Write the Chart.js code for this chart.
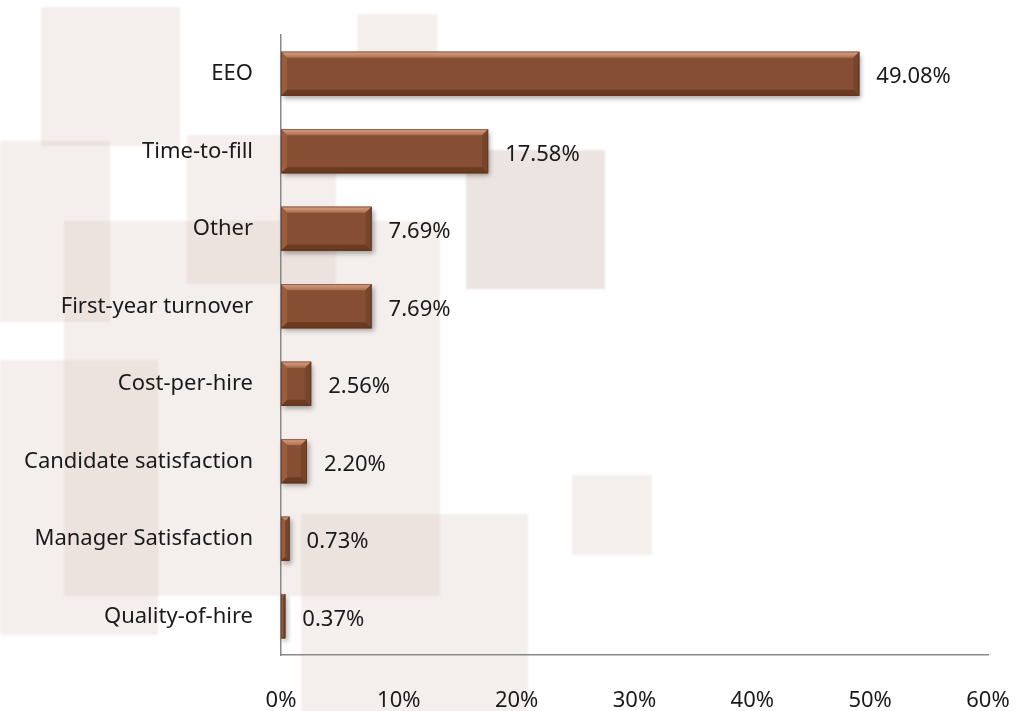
<!DOCTYPE html>
<html>
<head>
<meta charset="utf-8">
<script src="https://cdn.jsdelivr.net/npm/chart.js@4/dist/chart.umd.min.js"></script>
<style>
  html, body { margin: 0; padding: 0; background: #fff; }
  #wrap { width: 1017px; height: 711px; position: relative; }
</style>
</head>
<body>
<div id="wrap"><canvas id="chart"></canvas></div>
<script>
const categories = [
    'EEO',
    'Time-to-fill',
    'Other',
    'First-year turnover',
    'Cost-per-hire',
    'Candidate satisfaction',
    'Manager Satisfaction',
    'Quality-of-hire'
];
const shares = [49.08, 17.58, 7.69, 7.69, 2.56, 2.20, 0.73, 0.37];
const xTicks = [0, 10, 20, 30, 40, 50, 60];

const FONT = '"Noto Sans", sans-serif';
const FONT_SIZE = 22;
const TEXT = '#1a1a1a';

// faint squares scattered behind the plot
const backdrop = {
    id: 'backdrop',
    beforeDraw(chart) {
        const ctx = chart.ctx;
        const squares = [
            [41, 7, 139, 139, 0.2],
            [0, 141, 110, 181, 0.2],
            [187, 135, 149, 149, 0.2],
            [64, 221, 376, 375, 0.2],
            [0, 360, 158, 275, 0.2],
            [301, 514, 227, 200, 0.2],
            [357, 14, 80, 80, 0.2],
            [466, 150, 139, 139, 0.34],
            [572, 475, 80, 80, 0.2]
        ];
        ctx.save();
        ctx.filter = 'blur(1px)';
        squares.forEach(([x, y, w, h, a]) => {
            ctx.fillStyle = 'rgba(200,175,165,' + a + ')';
            ctx.fillRect(x, y, w, h);
        });
        ctx.restore();
    }
};

const barsOf = chart => chart.getDatasetMeta(0).data.map(b => {
    const p = b.getProps(['x', 'y', 'base', 'height'], true);
    return {l: p.base, r: p.x, t: p.y - p.height / 2, b: p.y + p.height / 2, y: p.y};
});

// soft shadow under each bar, then bevelled edges on top of it
const bevel = {
    id: 'bevel',
    beforeDatasetsDraw(chart) {
        const ctx = chart.ctx;
        ctx.save();
        ctx.shadowColor = 'rgba(0,0,0,0.35)';
        ctx.shadowBlur = 5;
        ctx.shadowOffsetX = 2;
        ctx.shadowOffsetY = 3;
        ctx.fillStyle = '#864f33';
        barsOf(chart).forEach(r => ctx.fillRect(r.l, r.t, r.r - r.l, r.b - r.t));
        ctx.restore();
    },
    afterDatasetsDraw(chart) {
        const ctx = chart.ctx;
        const poly = (pts, fill) => {
            ctx.beginPath();
            ctx.moveTo(pts[0][0], pts[0][1]);
            pts.slice(1).forEach(p => ctx.lineTo(p[0], p[1]));
            ctx.closePath();
            ctx.fillStyle = fill;
            ctx.fill();
        };
        ctx.save();
        barsOf(chart).forEach(r => {
            const w = r.r - r.l;
            const d = Math.min(6, w / 2);
            const top = ctx.createLinearGradient(0, r.t, 0, r.t + d);
            top.addColorStop(0, '#dba487');
            top.addColorStop(1, '#ad7050');
            poly([[r.l, r.t], [r.r, r.t], [r.r - d, r.t + d], [r.l + d, r.t + d]], top);
            poly([[r.l, r.b], [r.r, r.b], [r.r - d, r.b - d], [r.l + d, r.b - d]], '#6b3b21');
            poly([[r.l, r.t], [r.l + d, r.t + d], [r.l + d, r.b - d], [r.l, r.b]], '#9a5d3e');
            poly([[r.r, r.t], [r.r - d, r.t + d], [r.r - d, r.b - d], [r.r, r.b]], '#76452c');
            ctx.strokeStyle = 'rgba(80,40,20,0.45)';
            ctx.lineWidth = 1;
            ctx.strokeRect(r.l + 0.5, r.t + 0.5, w - 1, r.b - r.t - 1);
        });
        // value labels
        ctx.fillStyle = TEXT;
        ctx.font = FONT_SIZE + 'px ' + FONT;
        ctx.textAlign = 'left';
        ctx.textBaseline = 'middle';
        barsOf(chart).forEach((r, i) => {
            ctx.fillText(shares[i].toFixed(2) + '%', r.r + 17, r.y + 3);
        });
        ctx.restore();
    }
};

new Chart(document.getElementById('chart'), {
    type: 'bar',
    data: {
        labels: categories,
        datasets: [{
            data: shares,
            backgroundColor: '#864f33',
            borderWidth: 0,
            categoryPercentage: 0.57,
            barPercentage: 1
        }]
    },
    options: {
        indexAxis: 'y',
        responsive: true,
        maintainAspectRatio: false,
        animation: false,
        events: [],
        layout: { padding: { top: 35, right: 29, left: 0, bottom: 0 } },
        plugins: {
            legend: { display: false },
            tooltip: { enabled: false }
        },
        scales: {
            x: {
                min: xTicks[0],
                max: xTicks[xTicks.length - 1],
                afterBuildTicks: scale => { scale.ticks = xTicks.map(v => ({value: v})); },
                afterFit: scale => {
                    scale.height = 56;
                    scale.paddingLeft = 0;
                    scale.paddingRight = 0;
                },
                grid: { display: false },
                border: { display: true, color: '#888888', width: 1.5 },
                ticks: {
                    callback: value => value + '%',
                    color: TEXT,
                    font: { family: FONT, size: FONT_SIZE },
                    padding: 25,
                    maxRotation: 0
                }
            },
            y: {
                afterFit: scale => { scale.width = 281; },
                grid: { display: false },
                border: { display: true, color: '#888888', width: 1.5 },
                ticks: {
                    color: TEXT,
                    font: { family: FONT, size: FONT_SIZE },
                    padding: 20
                }
            }
        }
    },
    plugins: [backdrop, bevel]
});
</script>
</body>
</html>
